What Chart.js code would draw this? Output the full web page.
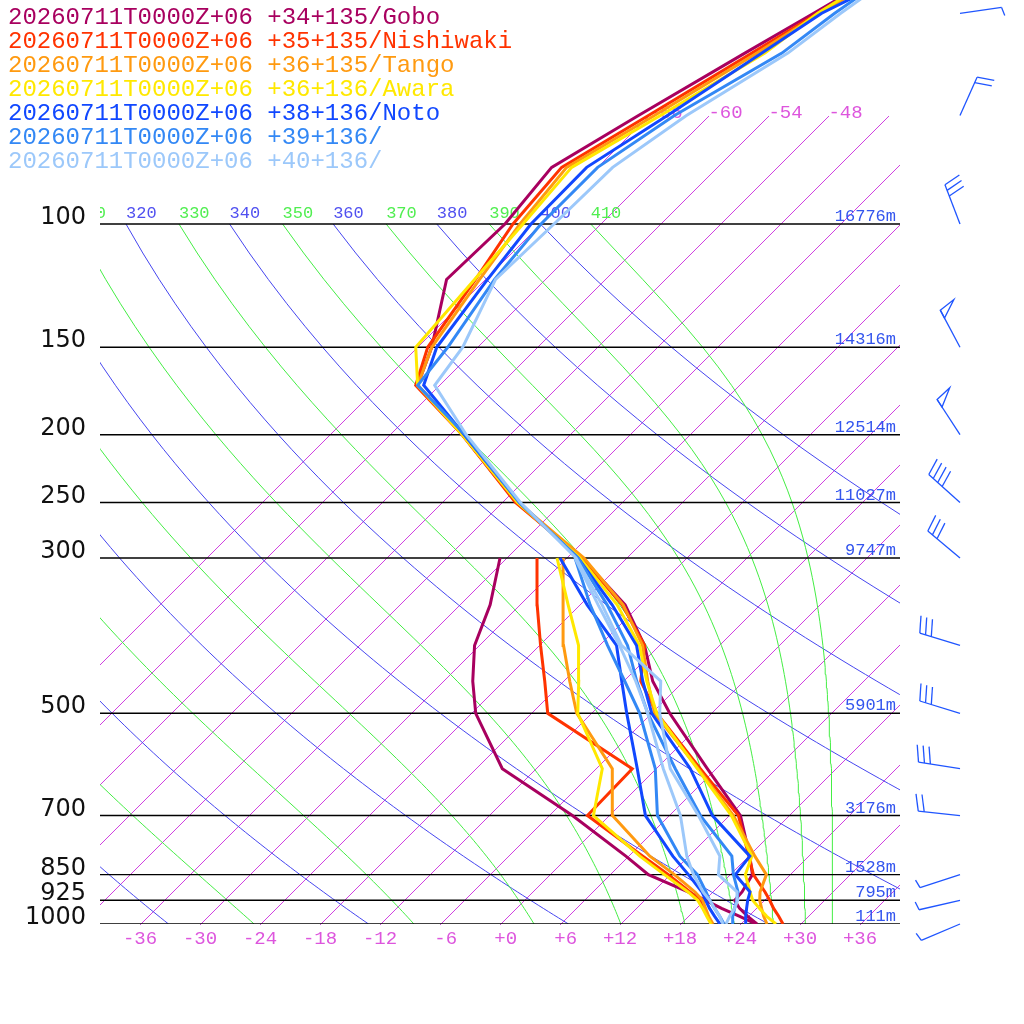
<!DOCTYPE html>
<html>
<head>
<meta charset="utf-8">
<script src="https://cdn.jsdelivr.net/npm/chart.js@4.4.1/dist/chart.umd.min.js"></script>
<style>
  html, body { margin: 0; padding: 0; background: #fff; }
  #wrap { width: 1024px; height: 1024px; }
</style>
</head>
<body>
<div id="wrap"><canvas id="skewt" width="1024" height="1024"></canvas></div>
<script>
// pressure levels (hPa)
const tempLevels = [1000, 975, 950, 925, 900, 850, 800, 700, 600, 500, 450, 400, 350, 300, 250, 200, 170, 150, 120, 100, 83, 70, 57, 50, 40];
const dewLevels = [1000, 975, 950, 925, 900, 850, 800, 700, 600, 500, 450, 400, 350, 300];

// temperatures / dewpoints (degC)
const tempGobo = [25.7, 24.0, 22.4, 21.1, 21.0, 20.3, 18.2, 13.2, 5.2, -4.1, -9.0, -13.4, -19.4, -28.4, -40.5, -52.7, -62.1, -64.5, -69.8, -69.5, -70.5, -67.0, -62.6, -59.7, -54.9];
const dewGobo = [25.6, 23.2, 20.6, 18.2, 15.6, 9.9, 5.8, -3.6, -15.3, -23.5, -27.0, -30.4, -32.9, -36.6];
const tempNishiwaki = [28.3, 27.1, 25.8, 24.6, 23.3, 20.4, 18.1, 13.0, 4.5, -5.4, -10.2, -13.4, -19.7, -28.4, -40.6, -52.7, -62.3, -64.9, -66.9, -68.7, -69.5, -66.0, -61.9, -59.3, -54.4];
const dewNishiwaki = [21.2, 20.0, 18.8, 17.6, 15.8, 11.9, 7.5, -2.1, -2.3, -16.3, -19.8, -23.8, -28.2, -32.9];
const tempTango = [26.7, 25.6, 24.6, 23.6, 22.8, 21.7, 18.7, 12.5, 4.3, -5.6, -9.5, -13.6, -19.6, -28.2, -40.3, -52.6, -62.1, -64.5, -66.5, -68.0, -69.0, -65.4, -61.4, -59.1, -54.4];
const dewTango = [21.3, 20.1, 19.0, 17.9, 16.3, 12.5, 8.2, 0.4, -4.3, -13.4, -17.3, -21.5, -25.6, -30.3];
const tempAwara = [27.6, 25.9, 24.4, 22.9, 21.8, 19.6, 18.4, 12.3, 4.2, -5.4, -9.6, -13.9, -20.2, -28.6, -40.4, -52.7, -62.1, -66.1, -67.0, -67.7, -68.5, -64.8, -60.6, -59.3, -55.2];
const dewAwara = [21.1, 19.9, 18.7, 17.4, 15.6, 11.5, 7.2, -1.5, -5.3, -13.3, -16.4, -20.0, -25.1, -30.9];
const tempNoto = [24.6, 23.8, 23.1, 22.4, 21.8, 18.6, 18.2, 10.4, 3.5, -5.9, -10.0, -14.2, -20.7, -28.8, -40.2, -52.5, -61.5, -64.0, -65.7, -66.9, -67.0, -64.1, -60.9, -58.9, -52.1];
const dewNoto = [22.0, 20.7, 19.4, 18.2, 17.0, 13.9, 10.5, 3.7, -1.8, -8.4, -12.1, -16.2, -23.2, -30.6];
const temp39 = [23.2, 22.5, 21.9, 21.3, 20.6, 18.4, 16.4, 9.2, 2.0, -6.3, -10.6, -15.1, -21.2, -28.8, -40.2, -52.4, -62.1, -62.9, -65.0, -65.9, -65.9, -63.4, -58.9, -57.6, -54.7];
const dew39 = [22.4, 21.2, 19.9, 18.6, 17.4, 14.8, 11.2, 4.9, 0.0, -7.1, -11.8, -17.1, -22.9, -29.1];
const temp40 = [22.6, 22.2, 21.9, 21.4, 20.5, 16.9, 15.2, 9.0, 1.5, -5.1, -8.2, -15.7, -21.7, -29.0, -40.1, -52.3, -60.4, -61.4, -64.9, -64.6, -64.4, -62.2, -58.3, -57.0, -54.3];
const dew40 = [22.3, 21.2, 19.9, 18.6, 17.1, 14.4, 11.9, 7.2, 0.8, -6.3, -10.7, -15.9, -22.1, -29.1];

const stationNames = [
  '20260711T0000Z+06 +34+135/Gobo',
  '20260711T0000Z+06 +35+135/Nishiwaki',
  '20260711T0000Z+06 +36+135/Tango',
  '20260711T0000Z+06 +36+136/Awara',
  '20260711T0000Z+06 +38+136/Noto',
  '20260711T0000Z+06 +39+136/',
  '20260711T0000Z+06 +40+136/'
];
const stationColors = ['#a8005f', '#ff3300', '#ff9a10', '#ffe800', '#1148ff', '#3388f5', '#9cc8fa'];
const stationTemps = [tempGobo, tempNishiwaki, tempTango, tempAwara, tempNoto, temp39, temp40];
const stationDews = [dewGobo, dewNishiwaki, dewTango, dewAwara, dewNoto, dew39, dew40];

// winds
const windLevels = [1000, 925, 850, 700, 600, 500, 400, 300, 250, 200, 150, 100, 70, 50];
const windDir = [247, 257, 252, 276, 279, 287, 287, 310, 312, 327, 332, 339, 24, 82];
const windSpeed = [5, 5, 5, 20, 30, 30, 30, 30, 40, 50, 50, 30, 20, 5];

// background
const isobars = [100, 150, 200, 250, 300, 500, 700, 850, 925, 1000];
const heightLabels = ['16776m', '14316m', '12514m', '11027m', '9747m', '5901m', '3176m', '1528m', '795m', '111m'];
const isotherms = [-66, -60, -54, -48, -42, -36, -30, -24, -18, -12, -6, 0, 6, 12, 18, 24, 30, 36];
const dryThetas = [200, 220, 240, 260, 280, 300, 320, 340, 360, 380, 400];
const moistThetas = [230, 250, 270, 290, 310, 330, 350, 370, 390, 410];
const isothermTop = 70;
const adiabatTop = 100;

// skew-T geometry: x axis value = T + skew(p)
const PTOP = 1000 * Math.pow(10, -924 / 700);
const skew = p => 70 * Math.log10(1000 / p);

const dryT = (th, p) => th * Math.pow(p / 1000, 0.2857) - 273.15;
const esat = tc => 6.112 * Math.exp(17.67 * tc / (tc + 243.5));
function thetaESat(tc, p) {
  const tk = tc + 273.15;
  const e = esat(tc);
  if (e > 0.5 * p) return 1e9;
  const r = 622 * e / (p - e);
  return tk * Math.pow(1000 / p, 0.2854 * (1 - 0.00028 * r)) *
    Math.exp((3.376 / tk - 0.00254) * r * (1 + 0.00081 * r));
}
function moistT(te, p) {
  let lo = -160, hi = 50;
  for (let k = 0; k < 50; k++) {
    const mid = (lo + hi) / 2;
    if (thetaESat(mid, p) < te) lo = mid; else hi = mid;
  }
  return (lo + hi) / 2;
}

const curveP = [];
for (let p = 1000; p >= adiabatTop; p -= 10) curveP.push(p);

const datasets = [];
function addLine(points, color, width) {
  datasets.push({
    data: points,
    borderColor: color,
    backgroundColor: color,
    borderWidth: width,
    pointRadius: 0,
    showLine: true,
    fill: false,
    tension: 0
  });
}

dryThetas.forEach(th => addLine(curveP.map(p => ({x: dryT(th, p) + skew(p), y: p})), 'rgb(70, 70, 240)', 1));
moistThetas.forEach(te => addLine(curveP.map(p => ({x: moistT(te, p) + skew(p), y: p})), 'rgb(68, 238, 68)', 1));
isobars.forEach(p => addLine([{x: -40, y: p}, {x: 40, y: p}], '#000', 1.4));
stationTemps.forEach((temps, i) => {
  addLine(dewLevels.map((p, k) => ({x: stationDews[i][k] + skew(p), y: p})), stationColors[i], 3);
  addLine(tempLevels.map((p, k) => ({x: temps[k] + skew(p), y: p})), stationColors[i], 3);
});
datasets.forEach((d, i) => { d.order = datasets.length - i; });

function fmtTick(t) {
  const s = (t < 0 ? '-' : '+') + Math.abs(t);
  return s.length < 3 ? ' ' + s : s;
}

const overlay = {
  id: 'overlay',
  beforeDraw(chart) {
    const ctx = chart.ctx;
    ctx.save();
    ctx.fillStyle = '#ffffff';
    ctx.fillRect(0, 0, chart.width, chart.height);
    ctx.restore();
  },
  beforeDatasetsDraw(chart) {
    const ctx = chart.ctx, xs = chart.scales.x, ys = chart.scales.y, a = chart.chartArea;
    ctx.save();

    // isotherms: crisp 1px stepped lines, clipped to the plot
    ctx.fillStyle = '#d040e0';
    isotherms.forEach(t => {
      const x1 = xs.getPixelForValue(t), y1 = ys.getPixelForValue(1000);
      const x2 = xs.getPixelForValue(t + skew(isothermTop)), y2 = ys.getPixelForValue(isothermTop);
      const k = (x2 - x1) / (y1 - y2);
      for (let y = Math.ceil(y2); y <= Math.floor(y1); y++) {
        const x = Math.round(x1 + (y1 - y) * k);
        if (x >= a.left && x < a.right && y >= a.top) ctx.fillRect(x, y, 1, 1);
      }
    });

    ctx.textBaseline = 'alphabetic';

    // station legend
    ctx.font = '24px "Liberation Mono"';
    ctx.textAlign = 'left';
    stationNames.forEach((n, i) => {
      ctx.fillStyle = stationColors[i];
      ctx.fillText(n, 8, 24 + 24 * i);
    });

    // pressure labels
    ctx.font = '24px "DejaVu Sans"';
    ctx.fillStyle = '#111';
    ctx.textAlign = 'right';
    isobars.forEach(p => ctx.fillText(String(p), 86, ys.getPixelForValue(p)));

    // heights
    ctx.font = '17px "Liberation Mono"';
    ctx.fillStyle = '#3355ee';
    isobars.forEach((p, i) => ctx.fillText(heightLabels[i], a.right - 4, ys.getPixelForValue(p) - 3));

    // isotherm labels
    ctx.font = '19px "Liberation Mono"';
    ctx.fillStyle = '#dd55dd';
    ctx.textAlign = 'center';
    isotherms.forEach(t => {
      const xb = xs.getPixelForValue(t);
      if (xb >= a.left && xb <= a.right) ctx.fillText(fmtTick(t), xb, a.bottom + 20);
    });
    ctx.textAlign = 'left';
    const yTop = ys.getPixelForValue(isothermTop) + 2;
    isotherms.forEach(t => {
      const xt = xs.getPixelForValue(t + skew(isothermTop));
      const w = ctx.measureText(String(t)).width;
      if (xt >= a.left && xt + w <= a.right) ctx.fillText(String(t), xt, yTop);
    });

    // adiabat labels at the top, clipped to the plot
    ctx.save();
    ctx.beginPath();
    ctx.rect(a.left, 0, a.right - a.left, a.bottom);
    ctx.clip();
    ctx.font = '17px "Liberation Mono"';
    const yLab = ys.getPixelForValue(adiabatTop) - 6;
    ctx.fillStyle = '#5050f0';
    dryThetas.forEach(th => ctx.fillText(String(th), xs.getPixelForValue(dryT(th, adiabatTop) + skew(adiabatTop)), yLab));
    ctx.fillStyle = '#50ee50';
    moistThetas.forEach(te => ctx.fillText(String(te), xs.getPixelForValue(moistT(te, adiabatTop) + skew(adiabatTop)), yLab));
    ctx.restore();

    ctx.restore();
  },
  afterDatasetsDraw(chart) {
    const ctx = chart.ctx, ys = chart.scales.y;
    const x0 = 960, shaft = 42, feather = 17, step = 6;
    ctx.save();
    ctx.strokeStyle = '#1f55ff';
    ctx.lineWidth = 1.3;
    ctx.lineJoin = 'miter';
    windLevels.forEach((p, i) => {
      const y0 = ys.getPixelForValue(p);
      const d = windDir[i] * Math.PI / 180;
      const ux = Math.sin(d), uy = -Math.cos(d);
      const fx = -uy, fy = ux;
      const at = s => [x0 + ux * s, y0 + uy * s];
      ctx.beginPath();
      ctx.moveTo(x0, y0);
      ctx.lineTo(...at(shaft));
      ctx.stroke();
      let spd = Math.round(windSpeed[i] / 5) * 5;
      let pos = shaft;
      while (spd >= 50) {
        const [bx, by] = at(pos), [cx, cy] = at(pos - 9);
        ctx.beginPath();
        ctx.moveTo(bx, by);
        ctx.lineTo(bx + fx * feather + ux * 3, by + fy * feather + uy * 3);
        ctx.lineTo(cx, cy);
        ctx.closePath();
        ctx.stroke();
        pos -= 11;
        spd -= 50;
      }
      while (spd >= 10) {
        const [bx, by] = at(pos);
        ctx.beginPath();
        ctx.moveTo(bx, by);
        ctx.lineTo(bx + fx * feather + ux * 4, by + fy * feather + uy * 4);
        ctx.stroke();
        pos -= step;
        spd -= 10;
      }
      if (spd >= 5) {
        const [bx, by] = at(pos);
        ctx.beginPath();
        ctx.moveTo(bx, by);
        ctx.lineTo(bx + fx * feather * 0.5 + ux * 2, by + fy * feather * 0.5 + uy * 2);
        ctx.stroke();
      }
    });
    ctx.restore();
  }
};

new Chart(document.getElementById('skewt'), {
  type: 'scatter',
  data: { datasets },
  options: {
    responsive: false,
    devicePixelRatio: 1,
    animation: false,
    events: [],
    layout: { padding: { left: 100, right: 124, top: 0, bottom: 100 } },
    plugins: { legend: { display: false }, tooltip: { enabled: false } },
    scales: {
      x: { type: 'linear', min: -40, max: 40, display: false },
      y: { type: 'logarithmic', reverse: true, min: PTOP, max: 1000, display: false }
    }
  },
  plugins: [overlay]
});
</script>
</body>
</html>
